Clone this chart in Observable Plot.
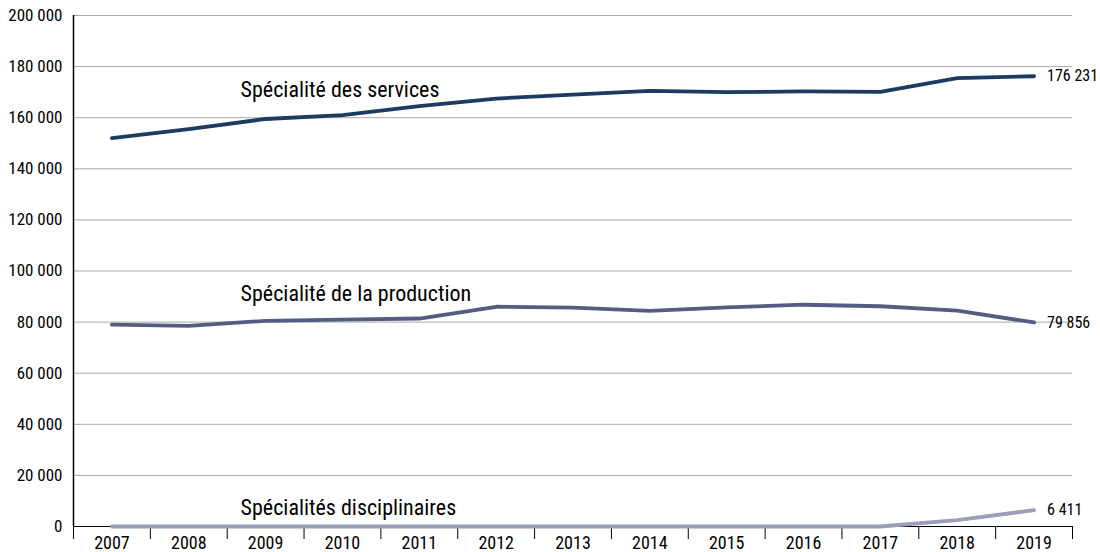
<!DOCTYPE html>
<html>
<head>
<meta charset="utf-8">
<script src="https://cdn.jsdelivr.net/npm/d3@7"></script>
<script src="https://cdn.jsdelivr.net/npm/@observablehq/plot@0.6"></script>
<style>
  html, body { margin: 0; padding: 0; background: #fff; }
  #chart { width: 1100px; height: 552px; }
  #chart g[aria-label="y-axis tick label"] { font-size: 17px; }
  #chart g[aria-label="x-axis tick label"] { font-size: 18px; }
</style>
</head>
<body>
<div id="chart"></div>
<script>
const years = [2007, 2008, 2009, 2010, 2011, 2012, 2013, 2014, 2015, 2016, 2017, 2018, 2019];
const services = [152000, 155500, 159500, 161000, 164500, 167500, 169000, 170500, 170000, 170300, 170100, 175500, 176231];
const production = [79000, 78500, 80500, 81000, 81400, 86000, 85700, 84400, 85800, 86800, 86200, 84500, 79856];
const disciplinaires = [0, 0, 0, 0, 0, 0, 0, 0, 0, 0, 0, 2500, 6411];
const seriesNames = ["Spécialité des services", "Spécialité de la production", "Spécialités disciplinaires"];
const seriesColors = ["#1d3a60", "#535d82", "#9b9db9"];
const labelYear = [2009, 2009, 2009];
const labelValue = [171000, 91200, 7400];
const yTicks = [0, 20000, 40000, 60000, 80000, 100000, 120000, 140000, 160000, 180000, 200000];

const allSeries = [services, production, disciplinaires];
const rows = [];
allSeries.forEach((vals, s) => years.forEach((y, i) => rows.push({series: seriesNames[s], year: y, value: vals[i]})));
const ends = allSeries.map((vals, s) => ({series: seriesNames[s], year: years[years.length - 1], value: vals[vals.length - 1]}));
const labels = seriesNames.map((n, s) => ({series: n, year: labelYear[s], value: labelValue[s]}));

const locale = d3.formatLocale({decimal: ",", thousands: "\u00a0", grouping: [3], currency: ["", " €"]});
const fmt = locale.format(",d");

const boundaries = [...years.map(y => y - 0.5), years[years.length - 1] + 0.5];
const font = "'Liberation Sans Narrow', 'Roboto Condensed', 'DejaVu Sans Condensed', 'Liberation Sans', sans-serif";

const chart = Plot.plot({
  width: 1100,
  height: 552,
  marginLeft: 73,
  marginRight: 28,
  marginTop: 15,
  marginBottom: 26,
  style: {fontFamily: font, fontSize: "17px", color: "#000", background: "#fff", overflow: "visible"},
  x: {domain: [years[0] - 0.5, years[years.length - 1] + 0.5], label: null},
  y: {domain: [0, 200000], label: null},
  color: {domain: seriesNames, range: seriesColors},
  marks: [
    Plot.ruleY(yTicks.filter(d => d > 0), {stroke: "#a9a9a9", strokeWidth: 1}),
    Plot.axisY(yTicks, {tickSize: 0, tickPadding: 11, tickFormat: fmt, fill: "#000", label: null}),
    Plot.axisX(boundaries, {tickSize: 13, tickFormat: () => "", stroke: "#000", label: null}),
    Plot.axisX(years, {tickSize: 0, tickPadding: 10, tickFormat: d => String(d), fill: "#000", label: null}),
    Plot.ruleX([years[0] - 0.5], {stroke: "#000", strokeWidth: 1.5}),
    Plot.ruleY([0], {stroke: "#000", strokeWidth: 1.2}),
    Plot.line(rows, {x: "year", y: "value", z: "series", stroke: "series", strokeWidth: 3.8}),
    Plot.text(labels, {x: "year", y: "value", text: "series", textAnchor: "start", dx: -25, fontSize: 22, fill: "#000"}),
    Plot.text(ends, {x: "year", y: "value", text: d => fmt(d.value), textAnchor: "start", dx: 13, fontSize: 16, fill: "#000"})
  ]
});
document.getElementById("chart").append(chart);
</script>
</body>
</html>
